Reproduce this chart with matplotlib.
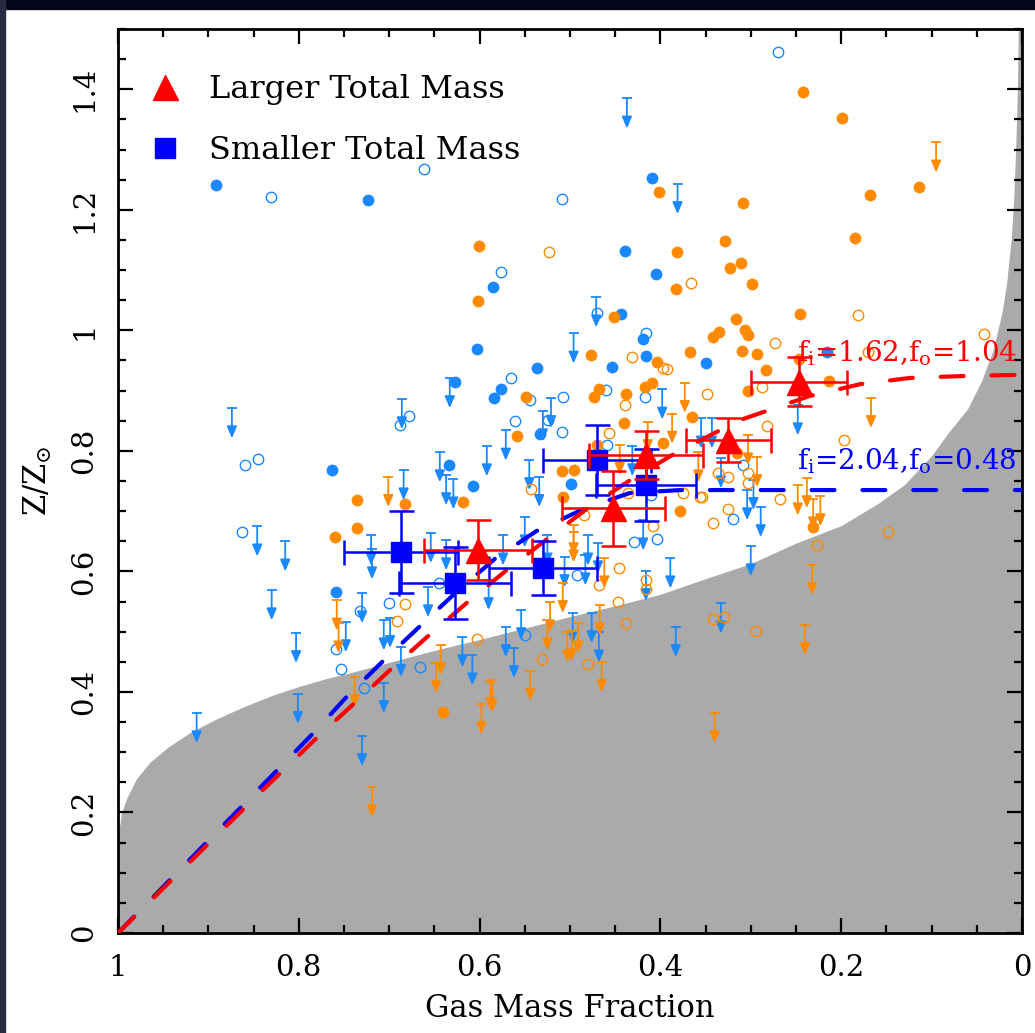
import matplotlib
matplotlib.use('Agg')
import matplotlib.pyplot as plt
from matplotlib.lines import Line2D
from matplotlib.patches import Rectangle
from matplotlib.ticker import MultipleLocator, FuncFormatter

plt.rcParams['font.family'] = ['DejaVu Serif']
plt.rcParams['mathtext.fontset'] = 'dejavuserif'

LIGHT_BLUE = '#1a88ff'
ORANGE = '#ff8a00'

# individual galaxies: (gas fraction, Z/Zsun)
blue_filled_f = [0.892, 0.723, 0.409, 0.439, 0.405, 0.634, 0.763, 0.627, 0.585, 0.444, 0.419, 0.603,
                 0.416, 0.350, 0.537, 0.454, 0.576, 0.584, 0.533, 0.216, 0.759, 0.607, 0.499]
blue_filled_z = [1.241, 1.216, 1.253, 1.132, 1.093, 0.777, 0.768, 0.914, 1.072, 1.027, 0.986, 0.969,
                 0.957, 0.946, 0.937, 0.939, 0.903, 0.888, 0.828, 0.964, 0.566, 0.742, 0.745]

blue_open_f = [0.831, 0.270, 0.662, 0.688, 0.678, 0.860, 0.845, 0.509, 0.576, 0.470, 0.416, 0.565,
               0.544, 0.524, 0.508, 0.561, 0.509, 0.460, 0.417, 0.459, 0.309, 0.320, 0.863, 0.759,
               0.753, 0.732, 0.700, 0.645, 0.666, 0.728, 0.410, 0.429, 0.404, 0.492, 0.550]
blue_open_z = [1.221, 1.462, 1.268, 0.843, 0.858, 0.776, 0.786, 1.218, 1.097, 1.029, 0.995, 0.921,
               0.884, 0.851, 0.889, 0.850, 0.831, 0.901, 0.889, 0.810, 0.776, 0.687, 0.665, 0.471,
               0.438, 0.534, 0.548, 0.581, 0.441, 0.406, 0.727, 0.649, 0.654, 0.594, 0.494]

blue_lim_f = [0.437, 0.381, 0.874, 0.686, 0.633, 0.644, 0.471, 0.496, 0.521, 0.530, 0.571, 0.398,
              0.592, 0.545, 0.431, 0.355, 0.343, 0.248, 0.333, 0.304, 0.297, 0.289, 0.300, 0.333,
              0.684, 0.846, 0.815, 0.720, 0.719, 0.654, 0.637, 0.637, 0.629, 0.830, 0.803, 0.748,
              0.730, 0.706, 0.699, 0.657, 0.687, 0.706, 0.801, 0.913, 0.730, 0.534, 0.419, 0.550,
              0.574, 0.525, 0.480, 0.469, 0.506, 0.483, 0.590, 0.416, 0.389, 0.554, 0.497, 0.476,
              0.468, 0.571, 0.562, 0.619, 0.608, 0.383]
blue_lim_z = [1.385, 1.243, 0.871, 0.886, 0.921, 0.798, 1.055, 0.995, 0.888, 0.866, 0.834, 0.902,
              0.808, 0.785, 0.808, 0.854, 0.854, 0.876, 0.788, 0.735, 0.752, 0.707, 0.642, 0.547,
              0.768, 0.675, 0.650, 0.660, 0.637, 0.664, 0.652, 0.760, 0.753, 0.569, 0.498, 0.516,
              0.564, 0.519, 0.523, 0.574, 0.475, 0.415, 0.397, 0.365, 0.327, 0.757, 0.685, 0.690,
              0.660, 0.660, 0.660, 0.647, 0.624, 0.627, 0.586, 0.601, 0.622, 0.536, 0.531, 0.531,
              0.499, 0.508, 0.473, 0.491, 0.461, 0.508]

orange_filled_f = [0.242, 0.199, 0.114, 0.168, 0.402, 0.309, 0.382, 0.329, 0.185, 0.323, 0.311, 0.299,
                   0.383, 0.601, 0.602, 0.451, 0.316, 0.342, 0.335, 0.306, 0.303, 0.477, 0.404, 0.367,
                   0.310, 0.293, 0.283, 0.549, 0.468, 0.473, 0.438, 0.440, 0.417, 0.409, 0.303, 0.365,
                   0.470, 0.397, 0.559, 0.315, 0.246, 0.247, 0.213, 0.231, 0.683, 0.736, 0.736, 0.760,
                   0.640, 0.509, 0.496, 0.618, 0.508, 0.378]
orange_filled_z = [1.395, 1.352, 1.238, 1.224, 1.229, 1.211, 1.130, 1.148, 1.153, 1.103, 1.111, 1.077,
                   1.068, 1.140, 1.049, 1.022, 1.019, 0.989, 0.997, 1.000, 0.992, 0.959, 0.947, 0.964,
                   0.966, 0.961, 0.934, 0.889, 0.902, 0.889, 0.894, 0.846, 0.906, 0.912, 0.899, 0.856,
                   0.810, 0.813, 0.825, 0.796, 1.027, 0.952, 0.916, 0.674, 0.712, 0.718, 0.672, 0.657,
                   0.367, 0.767, 0.768, 0.715, 0.723, 0.700]

orange_open_f = [0.366, 0.523, 0.273, 0.431, 0.397, 0.393, 0.439, 0.348, 0.282, 0.457, 0.181, 0.042,
                 0.170, 0.288, 0.197, 0.336, 0.325, 0.303, 0.303, 0.354, 0.268, 0.325, 0.342, 0.227,
                 0.148, 0.342, 0.330, 0.294, 0.683, 0.691, 0.543, 0.375, 0.356, 0.485, 0.436, 0.408,
                 0.446, 0.468, 0.416, 0.416, 0.447, 0.438, 0.603, 0.531, 0.480]
orange_open_z = [1.078, 1.130, 0.979, 0.955, 0.937, 0.936, 0.876, 0.894, 0.841, 0.830, 1.025, 0.994,
                 0.964, 0.906, 0.818, 0.763, 0.757, 0.763, 0.747, 0.724, 0.720, 0.703, 0.680, 0.644,
                 0.665, 0.521, 0.524, 0.501, 0.546, 0.518, 0.737, 0.730, 0.723, 0.694, 0.730, 0.675,
                 0.606, 0.577, 0.586, 0.571, 0.549, 0.514, 0.488, 0.454, 0.446]

orange_lim_f = [0.095, 0.373, 0.387, 0.414, 0.445, 0.303, 0.293, 0.358, 0.167, 0.248, 0.238, 0.231,
                0.223, 0.232, 0.240, 0.340, 0.701, 0.758, 0.756, 0.643, 0.648, 0.738, 0.719, 0.496,
                0.496, 0.462, 0.508, 0.522, 0.525, 0.467, 0.503, 0.498, 0.491, 0.465, 0.588, 0.586,
                0.544, 0.598]
orange_lim_z = [1.312, 0.913, 0.862, 0.848, 0.810, 0.826, 0.790, 0.798, 0.888, 0.743, 0.755, 0.720,
                0.725, 0.611, 0.511, 0.365, 0.757, 0.552, 0.514, 0.478, 0.448, 0.425, 0.242, 0.677,
                0.665, 0.622, 0.581, 0.549, 0.519, 0.544, 0.499, 0.501, 0.514, 0.450, 0.420, 0.416,
                0.435, 0.380]

# binned means
tri_f = [0.602, 0.452, 0.416, 0.325, 0.247]
tri_z = [0.635, 0.705, 0.793, 0.818, 0.915]
tri_ferr = [0.060, 0.057, 0.063, 0.047, 0.053]
tri_zerr = [0.050, 0.062, 0.040, 0.036, 0.040]

sq_f = [0.687, 0.627, 0.530, 0.470, 0.416]
sq_z = [0.632, 0.581, 0.606, 0.785, 0.743]
sq_ferr = [0.063, 0.062, 0.060, 0.060, 0.055]
sq_zerr = [0.068, 0.060, 0.045, 0.058, 0.060]

# model tracks
red_model_f = [1.0, 0.842, 0.780, 0.738, 0.698, 0.656, 0.614, 0.571, 0.525, 0.483, 0.437, 0.387,
               0.314, 0.287, 0.235, 0.178, 0.124, 0.069, 0.011, 0.0]
red_model_z = [0.0, 0.234, 0.324, 0.382, 0.438, 0.494, 0.548, 0.601, 0.654, 0.702, 0.748, 0.793,
               0.850, 0.864, 0.891, 0.911, 0.921, 0.924, 0.926, 0.926]
blue_model_f = [1.0, 0.824, 0.785, 0.747, 0.707, 0.666, 0.627, 0.583, 0.537, 0.483, 0.434, 0.378, 0.0]
blue_model_z = [0.0, 0.270, 0.330, 0.392, 0.451, 0.509, 0.564, 0.621, 0.667, 0.705, 0.730, 0.735, 0.735]

# lower envelope (shaded)
bound_f = [1.0, 0.999, 0.996, 0.990, 0.980, 0.965, 0.945, 0.92, 0.89, 0.86, 0.83, 0.80, 0.77, 0.74,
           0.70, 0.65, 0.60, 0.55, 0.50, 0.45, 0.40, 0.35, 0.30, 0.25, 0.20, 0.16, 0.13, 0.10, 0.08,
           0.06, 0.045, 0.032, 0.022, 0.017, 0.012, 0.009, 0.007, 0.005, 0.004, 0.0]
bound_z = [0.14, 0.17, 0.20, 0.225, 0.255, 0.283, 0.308, 0.333, 0.356, 0.376, 0.394, 0.409, 0.422,
           0.433, 0.449, 0.469, 0.487, 0.506, 0.525, 0.543, 0.562, 0.588, 0.613, 0.647, 0.676,
           0.712, 0.744, 0.792, 0.833, 0.870, 0.915, 0.967, 1.03, 1.078, 1.15, 1.22, 1.30, 1.40,
           1.5, 1.5]

LIM_LEN = 0.05


def upper_limits(ax, f, z, color):
	for xi, zi in zip(f, z):
		ax.annotate('', xy=(xi, zi - LIM_LEN), xytext=(xi, zi),
					arrowprops=dict(arrowstyle='-|>,head_length=0.7,head_width=0.3',
									color=color, lw=1.3, shrinkA=0, shrinkB=0),
					zorder=3)
	ax.plot(f, z, ls='none', marker='_', ms=6.5, mew=1.3, color=color, zorder=3)


fig = plt.figure(figsize=(10.35, 10.33), dpi=100)
ax = fig.add_axes([0.114, 0.0968, 0.8734, 0.8751])

ax.fill_between(bound_f, bound_z, 0, color='#aaaaaa', lw=0, zorder=1)

ax.plot(blue_filled_f, blue_filled_z, ls='none', marker='o', ms=8.5, color=LIGHT_BLUE, mew=0, zorder=3)
ax.plot(blue_open_f, blue_open_z, ls='none', marker='o', ms=7.5, mfc='none', mec=LIGHT_BLUE, mew=1.0, zorder=3)
upper_limits(ax, blue_lim_f, blue_lim_z, LIGHT_BLUE)
ax.plot(orange_filled_f, orange_filled_z, ls='none', marker='o', ms=8.5, color=ORANGE, mew=0, zorder=3)
ax.plot(orange_open_f, orange_open_z, ls='none', marker='o', ms=7.5, mfc='none', mec=ORANGE, mew=1.0, zorder=3)
upper_limits(ax, orange_lim_f, orange_lim_z, ORANGE)

dash = (0, (5.5, 6.7))
ax.plot(blue_model_f, blue_model_z, color='blue', lw=3, ls=dash, dash_capstyle='round', zorder=4)
ax.plot(red_model_f, red_model_z, color='red', lw=3, ls=dash, dash_capstyle='round', zorder=4)

ax.errorbar(sq_f, sq_z, xerr=sq_ferr, yerr=sq_zerr, fmt='s', ms=15, color='blue',
			elinewidth=1.8, capsize=9, capthick=1.8, zorder=5)
ax.errorbar(tri_f, tri_z, xerr=tri_ferr, yerr=tri_zerr, fmt='^', ms=18, color='red',
			elinewidth=1.8, capsize=9, capthick=1.8, zorder=6)

ax.text(0.249, 0.962, r'f$_{\rm i}$=1.62,f$_{\rm o}$=1.04', color='red', fontsize=20,
		va='center', ha='left', zorder=7)
ax.text(0.249, 0.783, r'f$_{\rm i}$=2.04,f$_{\rm o}$=0.48', color='blue', fontsize=20,
		va='center', ha='left', zorder=7)

handles = [Line2D([], [], ls='none', marker='^', ms=18, color='red'),
		   Line2D([], [], ls='none', marker='s', ms=15, color='blue')]
ax.legend(handles, ['Larger Total Mass', 'Smaller Total Mass'], loc='upper left',
		  bbox_to_anchor=(0.002, 0.982), frameon=False, fontsize=23, handletextpad=0.9,
		  labelspacing=0.95, handlelength=1.0)

ax.set_xlim(1, 0)
ax.set_ylim(0, 1.5)
ax.xaxis.set_major_locator(MultipleLocator(0.2))
ax.xaxis.set_minor_locator(MultipleLocator(0.05))
ax.yaxis.set_major_locator(MultipleLocator(0.2))
ax.yaxis.set_minor_locator(MultipleLocator(0.05))
fmt = FuncFormatter(lambda v, p: '%g' % round(v, 2))
ax.xaxis.set_major_formatter(fmt)
ax.yaxis.set_major_formatter(fmt)
ax.tick_params(which='both', direction='in', top=True, right=True, width=1.6, labelsize=21)
ax.tick_params(which='major', length=11)
ax.tick_params(which='minor', length=6)
ax.tick_params(axis='x', pad=15)
ax.tick_params(axis='y', pad=14, labelrotation=90)
for lab in ax.get_yticklabels():
	lab.set_va('center')
for s in ax.spines.values():
	s.set_linewidth(2)

ax.set_xlabel('Gas Mass Fraction', fontsize=22, labelpad=8)
ax.set_ylabel(r'Z/Z$_{\odot}$', fontsize=22, labelpad=12)

# dark screen edges
fig.patches.append(Rectangle((0, 1 - 9 / 1033), 1, 9 / 1033, transform=fig.transFigure,
							 color='#06061c', zorder=0))
fig.patches.append(Rectangle((0, 0), 5 / 1035, 1, transform=fig.transFigure,
							 color='#2a2a40', zorder=0))

fig.savefig('out.png', dpi=100, facecolor='white')
